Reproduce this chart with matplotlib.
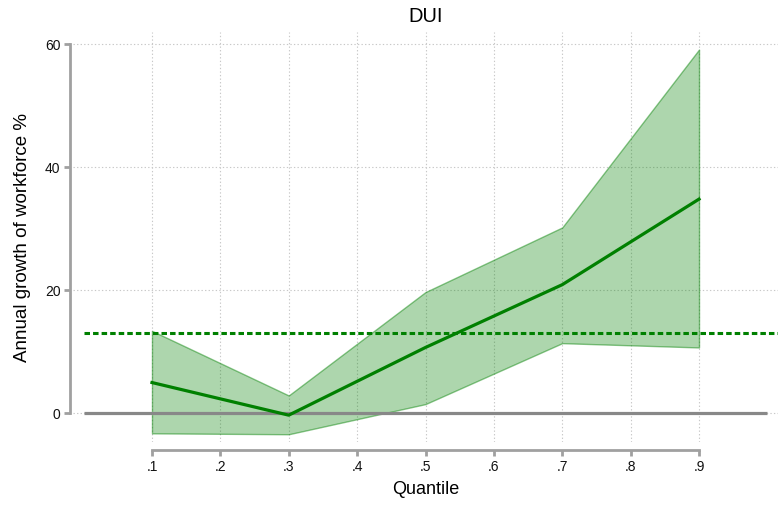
import matplotlib
matplotlib.use("Agg")
import matplotlib.pyplot as plt

# quantile regression coefficients
quantiles = [0.1, 0.3, 0.5, 0.7, 0.9]
coef = [5.0, -0.3, 10.7, 20.9, 34.8]
ci_low = [-3.25, -3.4, 1.5, 11.4, 10.7]
ci_high = [13.4, 2.9, 19.7, 30.2, 59.1]
ols_coef = 13.0

xticks = [0.1, 0.2, 0.3, 0.4, 0.5, 0.6, 0.7, 0.8, 0.9]
xticklabels = [".1", ".2", ".3", ".4", ".5", ".6", ".7", ".8", ".9"]
yticks = [0, 20, 40, 60]

plt.rcParams["font.family"] = ["Liberation Sans", "DejaVu Sans"]

fig = plt.figure(figsize=(7.78, 5.05), dpi=100)
ax = fig.add_axes([73 / 778, 63 / 505, 705 / 778, 410 / 505])

GREEN = "#008000"
AXIS = "#a0a0a0"

ax.fill_between(quantiles, ci_low, ci_high, facecolor=(0, 0.5, 0, 0.32),
                edgecolor=(0, 0.5, 0, 0.45), lw=1.0, zorder=2)
ax.hlines(0, 0, 1, color="#888888", lw=2.3, zorder=3)
ax.plot(quantiles, coef, color=GREEN, lw=2.3, zorder=4)
ax.hlines(ols_coef, 0, 1.05, color=GREEN, lw=2.2, linestyles=(0, (1.8, 1.0)),
          zorder=4)

ax.set_xlim(-0.0155, 1.0155)
ax.set_ylim(-4.66, 61.95)
ax.set_xticks(xticks)
ax.set_xticklabels(xticklabels, fontsize=11)
ax.set_yticks(yticks)
ax.set_yticklabels([str(v) for v in yticks], fontsize=11)

ax.grid(True, color="#c8c8c8", lw=0.8, ls=(0, (1.2, 2.0)), zorder=0)
ax.set_axisbelow(True)

for s in ["top", "right"]:
    ax.spines[s].set_visible(False)
ax.spines["left"].set_position(("outward", 2))
ax.spines["left"].set_bounds(0, 60)
ax.spines["bottom"].set_position(("outward", 6))
ax.spines["bottom"].set_bounds(0.1, 0.9)
for s in ["left", "bottom"]:
    ax.spines[s].set_color(AXIS)
    ax.spines[s].set_linewidth(2.0)
    ax.spines[s].set_capstyle("projecting")
ax.tick_params(axis="both", color=AXIS, width=2.0, length=4, pad=3,
               labelcolor="#111111")

ax.set_xlabel("Quantile", fontsize=13, labelpad=5)
ax.set_ylabel("Annual growth of workforce %", fontsize=13.5, labelpad=10)
ax.set_title("DUI", fontsize=14.5, pad=7)

fig.savefig("out.png", dpi=100)
